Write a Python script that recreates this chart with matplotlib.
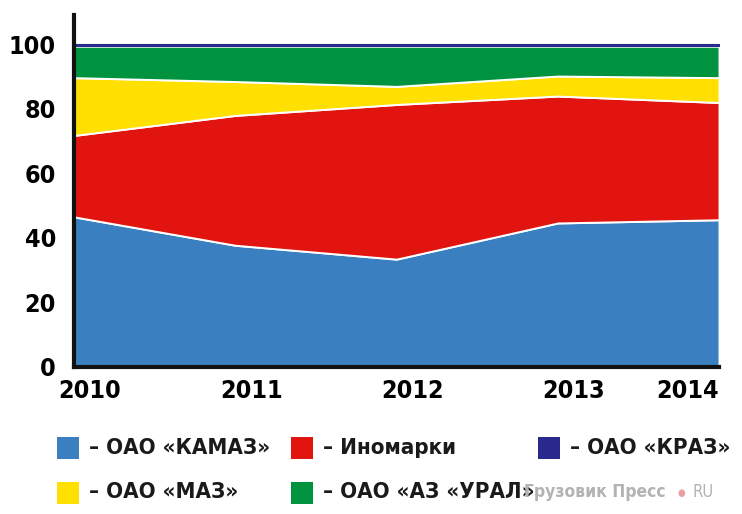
import matplotlib.pyplot as plt
from matplotlib.patches import Rectangle
from matplotlib.transforms import ScaledTranslation

years = [2010, 2011, 2012, 2013, 2014]
kamaz = [46.5, 37.7, 33.4, 44.6, 45.6]
inomarki = [25.2, 40.2, 47.9, 39.3, 36.3]
maz = [17.9, 10.5, 5.6, 6.2, 7.7]
ural = [9.7, 10.9, 12.4, 9.2, 9.7]
kraz = [0.6, 0.6, 0.6, 0.6, 0.6]

names = ['– ОАО «КАМАЗ»', '– Иномарки', '– ОАО «МАЗ»', '– ОАО «АЗ «УРАЛ»', '– ОАО «КРАЗ»']
colors = ['#3a80c1', '#e2140f', '#ffe000', '#00933f', '#2a2a8e']
yticks = [0, 20, 40, 60, 80, 100]

plt.rcParams['font.family'] = ['DejaVu Sans Condensed', 'DejaVu Sans']
plt.rcParams['font.stretch'] = 'condensed'
plt.rcParams['font.weight'] = 'bold'

W, H = 742, 514
fig = plt.figure(figsize=(W / 100, H / 100), dpi=100)
ax = fig.add_axes([74 / W, 1 - 367 / H, 645 / W, 352 / H])

polys = ax.stackplot(years, kamaz, inomarki, maz, ural, kraz, colors=colors,
                     edgecolor='white', linewidth=1.4)
polys[-1].set_edgecolor(colors[-1])
polys[-1].set_linewidth(0.8)

ax.set_xlim(2010, 2014)
ax.set_ylim(0, 109)
ax.set_xticks(years)
ax.set_yticks(yticks)
ax.tick_params(length=0, labelsize=18)
ax.tick_params(axis='x', pad=9)
ax.tick_params(axis='y', pad=13)
for s in ['top', 'right']:
    ax.spines[s].set_visible(False)
for s in ['left', 'bottom']:
    ax.spines[s].set_linewidth(3)
    ax.spines[s].set_color('#111111')

xl = ax.get_xticklabels()
xl[-1].set_ha('right')
for t in xl[:-1]:
    t.set_transform(t.get_transform() + ScaledTranslation(0.16, 0, fig.dpi_scale_trans))

# legend, laid out by hand like the original
leg_x = [57, 291, 538, 57, 291]
leg_y = [447.5, 447.5, 447.5, 492.5, 492.5]
leg_idx = [0, 1, 4, 2, 3]
for x, y, i in zip(leg_x, leg_y, leg_idx):
    fig.add_artist(Rectangle((x / W, 1 - (y + 11) / H), 22 / W, 22 / H,
                             transform=fig.transFigure, facecolor=colors[i], edgecolor='none'))
    fig.text((x + 32) / W, 1 - y / H, names[i], fontsize=16, va='center', color='#1a1a1a')

fig.text(524 / W, 1 - 492 / H, 'Грузовик Пресс', color='#b3b3b3', fontsize=12.5, va='center')
fig.text(677 / W, 1 - 493 / H, '●', color='#eba0a0', fontsize=7, va='center')
fig.text(693 / W, 1 - 492 / H, 'RU', color='#b3b3b3', fontsize=12, weight='normal', va='center')

fig.savefig('out.png', dpi=100)
